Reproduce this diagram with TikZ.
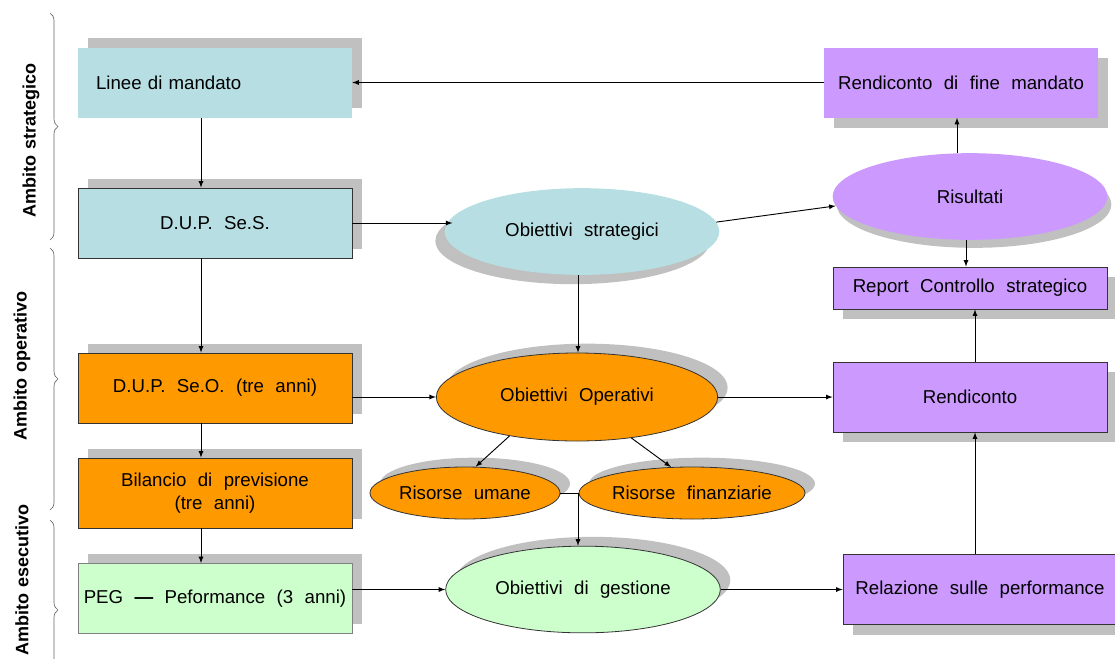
\documentclass[tikz,border=0pt]{standalone}
\usepackage{fontspec}
\setmainfont{Liberation Sans}[WordSpace=2.2]
\newfontfamily\ambitofont{Liberation Sans}[WordSpace=1.2]
\usetikzlibrary{shapes.geometric,shadows,decorations.pathreplacing}
\definecolor{azzurro}{HTML}{B7DFE3}
\definecolor{arancio}{HTML}{FF9900}
\definecolor{verdino}{HTML}{CCFFCC}
\definecolor{lilla}{HTML}{CC99FF}
\definecolor{ombra}{HTML}{C0C0C0}
\tikzset{
  box/.style={rectangle,minimum width=205.5pt,minimum height=52.5pt,inner sep=0pt,align=center},
  ell/.style={ellipse,inner sep=0pt,align=center},
  sh ur/.style={drop shadow={shadow xshift=7.5pt,shadow yshift=7pt,fill=ombra,opacity=1}},
  sh dl/.style={drop shadow={shadow xshift=-7pt,shadow yshift=-7pt,fill=ombra,opacity=1}},
  sh dr/.style={drop shadow={shadow xshift=7.5pt,shadow yshift=-7.5pt,fill=ombra,opacity=1}},
  sh d/.style={drop shadow={shadow xshift=3pt,shadow yshift=-6pt,fill=ombra,opacity=1}},
  bordo/.style={draw=black!80,line width=0.6pt},
  freccia/.style={-latex,line width=0.7pt},
  ambito/.style={rotate=90,font=\ambitofont\fontsize{13.5}{16}\selectfont\bfseries},
  parentesi/.style={decorate,decoration={brace,amplitude=6pt},draw=black!60,line width=0.5pt}
}
\begin{document}
\begin{tikzpicture}[x=0.75pt,y=-0.75pt,font=\fontsize{14}{17}\selectfont]
\useasboundingbox(0,0)rectangle(1115,658);
% ambiti
\draw[parentesi](50,13)--(50,240);
\draw[parentesi](50,248)--(50,510);
\draw[parentesi](50,520)--(50,700);
\node[ambito](lstrat)at(31,140){Ambito strategico};
\node[ambito](loper)at(22,366){Ambito operativo};
\node[ambito](lesec)at(22,580){Ambito esecutivo};
% colonna sinistra
\node[box,fill=azzurro,sh ur,inner xsep=13.5pt,text width=178.5pt,align=left](linee)at(215,82.5){Linee di mandato};
\node[box,fill=azzurro,bordo,sh ur](ses)at(215,223){\raisebox{-3pt}{D.U.P. Se.S.}};
\node[box,fill=arancio,bordo,sh ur](seo)at(215,388){\raisebox{-2pt}{D.U.P. Se.O. (tre anni)}};
\node[box,fill=arancio,bordo,sh ur](bil)at(215,493){Bilancio di previsione\\(tre anni)};
\node[box,fill=verdino,draw=gray,line width=0.6pt,sh ur](peg)at(215,598.5){PEG \textbf{---} Peformance (3 anni)};
% colonna centrale
\node[ell,fill=azzurro,sh dl,minimum width=206pt,minimum height=65pt](strat)at(582,231.5){\raisebox{-3pt}{Obiettivi strategici}};
\node[ell,fill=arancio,bordo,sh ur,minimum width=211pt,minimum height=66pt](oper)at(577,397){Obiettivi Operativi};
\node[ell,fill=arancio,bordo,sh ur,minimum width=142.5pt,minimum height=39pt](umane)at(465,493){Risorse umane};
\node[ell,fill=arancio,bordo,sh ur,minimum width=142.5pt,minimum height=39pt](fin)at(692,493){Risorse finanziarie};
\node[ell,fill=verdino,bordo,sh ur,minimum width=206pt,minimum height=65pt](gest)at(583,589.5){Obiettivi di gestione};
% colonna destra
\node[box,fill=lilla,sh dr](fine)at(961,82.5){Rendiconto di fine mandato};
\node[ell,fill=lilla,sh d,minimum width=206pt,minimum height=65pt](ris)at(970,196.5){Risultati};
\node[box,fill=lilla,bordo,sh dr,minimum height=31.5pt](report)at(970,288){\raisebox{-2pt}{Report Controllo strategico}};
\node[box,fill=lilla,bordo,sh dr](rend)at(970,397){Rendiconto};
\node[box,fill=lilla,bordo,sh dr](rel)at(980,589.5){\raisebox{-3pt}{Relazione sulle performance}};
% connettori
\coordinate(lx)at(201,0);
\coordinate(mx)at(578,0);
\coordinate(rx)at(975,0);
\coordinate(ra)at(957,0);
\coordinate(rb)at(966,0);
\draw[freccia](linee.south-|lx)--(ses.north-|lx);
\draw[freccia](ses.south-|lx)--(seo.north-|lx);
\draw[freccia](seo.south-|lx)--(bil.north-|lx);
\draw[freccia](bil.south-|lx)--(peg.north-|lx);
\draw[freccia](ses.east)--([xshift=6pt]ses.east-|strat.west);
\draw[freccia](seo.east|-oper.west)--(oper.west);
\draw[freccia](peg.east|-gest.west)--(gest.west);
\draw[freccia](strat.south-|mx)--(oper.north-|mx);
\draw[freccia](oper.210)--(umane.68);
\draw[freccia](oper.323)--(fin.129);
\draw(umane.east)--(fin.west);
\draw[freccia](umane.east-|mx)--(gest.north-|mx);
\draw[freccia](strat.4)--(ris.184);
\draw[freccia](oper.east)--(rend.west);
\draw[freccia](gest.east)--(rel.west);
\draw[freccia](rel.north-|rx)--(rend.south-|rx);
\draw[freccia](rend.north-|rx)--(report.south-|rx);
\draw[freccia](ris.south-|rb)--(report.north-|rb);
\draw[freccia](ris.north-|ra)--(fine.south-|ra);
\draw[freccia](fine.west)--(linee.east);
\end{tikzpicture}
\end{document}
